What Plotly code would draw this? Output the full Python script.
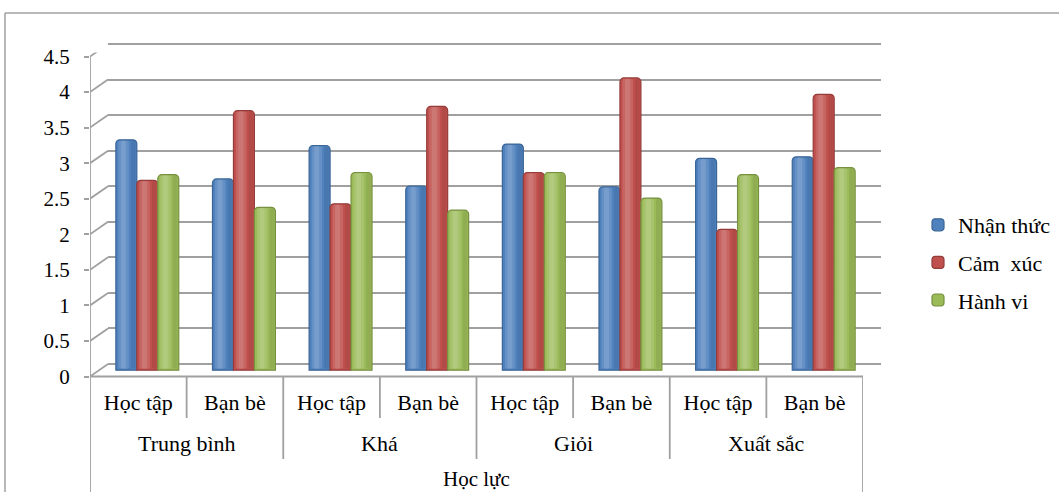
import plotly.graph_objects as go

# Categories: academic level (outer) and domain (inner)
hoc_luc = ["Trung bình", "Khá", "Giỏi", "Xuất sắc"]
linh_vuc = ["Học tập", "Bạn bè"]

groups = [g for g in hoc_luc for _ in linh_vuc]
subs = [s for _ in hoc_luc for s in linh_vuc]

# Mean scores per component
nhan_thuc = [3.24, 2.69, 3.16, 2.59, 3.18, 2.58, 2.98, 3.00]
cam_xuc = [2.67, 3.65, 2.34, 3.71, 2.78, 4.11, 1.98, 3.88]
hanh_vi = [2.75, 2.29, 2.78, 2.25, 2.78, 2.42, 2.75, 2.85]

series_names = ["Nhận thức", "Cảm  xúc", "Hành vi"]
series_values = [nhan_thuc, cam_xuc, hanh_vi]
fill_colors = ["#4F81BD", "#C0504D", "#9BBB59"]
edge_colors = ["#3A6596", "#943C3A", "#76903F"]

y_ticks = [0, 0.5, 1, 1.5, 2, 2.5, 3, 3.5, 4, 4.5]

W, H = 1059, 492
FONT = "Liberation Serif"
GRID = "#A0A0A0"
GRID_W = 1.8

# bar width and cluster offsets in category units
BAR_W = 0.217
offsets = [-1.5 * BAR_W, -0.5 * BAR_W, 0.5 * BAR_W]

# vertical scale shared by the three depth planes (pixels per unit)
PX_PER_UNIT = 320 / 4.5
PAD = 4  # keeps the 0 and 4.5 gridlines inside the axis range
PAD_U = PAD / PX_PER_UNIT
Y_RANGE = [-PAD_U, 4.5 + PAD_U]


def px_x(p):
    return p / W


def px_y(p):
    return 1 - p / H


def plane(zero_px):
    """y-domain for a depth plane whose value 0 sits at pixel row zero_px."""
    return [px_y(zero_px + PAD), px_y(zero_px - 320 - PAD)]


fig = go.Figure()

# back wall: value gridlines live on this subplot
fig.add_trace(go.Scatter(
    x=[-0.5] * len(y_ticks), y=y_ticks, xaxis="x", yaxis="y",
    mode="none", showlegend=False, hoverinfo="skip",
))

for name, vals, fc, ec, off in zip(series_names, series_values, fill_colors, edge_colors, offsets):
    fig.add_trace(go.Bar(
        name=name,
        x=[groups, subs],
        y=vals,
        xaxis="x3",
        yaxis="y3",
        offset=off,
        width=BAR_W,
        marker=dict(color=fc, line=dict(color=ec, width=1.2), cornerradius=4),
        legendgroup=name,
        hoverinfo="skip",
    ))
    # cylinder shading: soft highlight left of centre, shade on the right
    for rel_off, rel_w, col in [(0.12, 0.5, "rgba(255,255,255,0.12)"),
                                (0.24, 0.24, "rgba(255,255,255,0.12)"),
                                (0.72, 0.22, "rgba(0,0,0,0.07)")]:
        fig.add_trace(go.Bar(
            x=[groups, subs],
            y=[v - 0.03 for v in vals],
            base=[0.02] * len(vals),
            xaxis="x3",
            yaxis="y3",
            offset=off + rel_off * BAR_W,
            width=rel_w * BAR_W,
            marker=dict(color=col, line=dict(width=0), cornerradius=2),
            legendgroup=name,
            showlegend=False,
            hoverinfo="skip",
        ))

# depth offset of the 3-D box, in pixels
DX, DY = 18, 12.5

shapes = []
# diagonal connectors from the front value axis to the back wall
for v in y_ticks:
    shapes.append(dict(
        type="line", xref="x2", yref="y2",
        xsizemode="pixel", xanchor=-0.5, x0=0, x1=DX,
        ysizemode="pixel", yanchor=v, y0=0, y1=DY,
        line=dict(color=GRID, width=GRID_W),
    ))
# right edge of the floor
shapes.append(dict(
    type="line", xref="x2", yref="y2",
    xsizemode="pixel", xanchor=7.5, x0=0, x1=DX,
    ysizemode="pixel", yanchor=0, y0=0, y1=DY,
    line=dict(color=GRID, width=GRID_W),
))

# category table lines under the floor
floor_y = px_y(376.5)
for b in [0.5, 2.5, 4.5, 6.5]:
    shapes.append(dict(type="line", xref="x2", yref="paper", x0=b, x1=b,
                       y0=floor_y, y1=px_y(418), line=dict(color=GRID, width=GRID_W)))
for b in [1.5, 3.5, 5.5]:
    shapes.append(dict(type="line", xref="x2", yref="paper", x0=b, x1=b,
                       y0=floor_y, y1=px_y(459), line=dict(color=GRID, width=GRID_W)))
for b in [-0.5, 7.5]:
    shapes.append(dict(type="line", xref="x2", yref="paper", x0=b, x1=b,
                       y0=floor_y, y1=0, line=dict(color=GRID, width=GRID_W)))

# outer chart frame
shapes.append(dict(type="line", xref="paper", yref="paper", x0=px_x(5), x1=1,
                   y0=px_y(13), y1=px_y(13), line=dict(color="#A0A0A0", width=1.5)))
shapes.append(dict(type="line", xref="paper", yref="paper", x0=px_x(5), x1=px_x(5),
                   y0=px_y(13), y1=0, line=dict(color="#A0A0A0", width=1.5)))

annotations = []
for i, g in enumerate(hoc_luc):
    annotations.append(dict(text=g, xref="x2", yref="paper", x=2 * i + 0.5, y=px_y(443),
                            showarrow=False, xanchor="center", yanchor="middle",
                            font=dict(family=FONT, size=22, color="black")))
annotations.append(dict(text="Học lực", xref="x2", yref="paper", x=3.5, y=px_y(478.5),
                        showarrow=False, xanchor="center", yanchor="middle",
                        font=dict(family=FONT, size=21, color="black")))

fig.update_layout(
    template="none",
    width=W, height=H,
    margin=dict(l=0, r=0, t=0, b=0, pad=0, autoexpand=False),
    paper_bgcolor="white",
    plot_bgcolor="rgba(0,0,0,0)",
    barmode="group",
    shapes=shapes,
    annotations=annotations,
    # back wall with value gridlines
    xaxis=dict(domain=[px_x(108), px_x(881)], anchor="y", range=[-0.5, 7.5],
               showgrid=False, showticklabels=False, zeroline=False, showline=False,
               ticks="", automargin=False),
    yaxis=dict(domain=plane(364), anchor="x", range=Y_RANGE,
               tickvals=y_ticks, showgrid=True, gridcolor=GRID, gridwidth=GRID_W,
               showticklabels=False, zeroline=False, showline=False, ticks="",
               automargin=False),
    # front value axis and category axis
    xaxis2=dict(domain=[px_x(90), px_x(863)], anchor="y2", range=[-0.5, 7.5],
                tickvals=list(range(8)), ticktext=subs, ticks="",
                showgrid=False, zeroline=False, showline=False,
                tickfont=dict(family=FONT, size=22, color="black"), ticklabelstandoff=6,
                automargin=False),
    yaxis2=dict(domain=plane(376.5), anchor="x2", range=Y_RANGE,
                tickvals=y_ticks, ticks="outside", ticklen=5, tickcolor=GRID, tickwidth=GRID_W,
                showgrid=False, zeroline=False, showline=False,
                tickfont=dict(family=FONT, size=21, color="black"), ticklabelstandoff=10,
                automargin=False),
    # columns at mid depth
    xaxis3=dict(domain=[px_x(99), px_x(872)], anchor="y3", type="multicategory",
                range=[-0.5, 7.5], showgrid=False, showticklabels=False, showdividers=False,
                zeroline=False, showline=False, ticks="", automargin=False),
    yaxis3=dict(domain=plane(370.2), anchor="x3", range=Y_RANGE,
                showgrid=False, showticklabels=False, zeroline=False, showline=False,
                ticks="", automargin=False),
    legend=dict(x=px_x(918), y=px_y(262.5), xanchor="left", yanchor="middle",
                font=dict(family=FONT, size=22, color="black"),
                traceorder="grouped", tracegroupgap=6, bgcolor="rgba(0,0,0,0)",
                borderwidth=0),
    showlegend=True,
)

# front edges of the box: value axis line and floor line
fig.add_shape(type="line", xref="x2", yref="y2", x0=-0.5, x1=-0.5, y0=0, y1=4.5,
              line=dict(color=GRID, width=GRID_W))
fig.add_shape(type="line", xref="x2", yref="y2", x0=-0.5, x1=7.5, y0=0, y1=0,
              line=dict(color=GRID, width=GRID_W))

fig.write_html("out.html")
